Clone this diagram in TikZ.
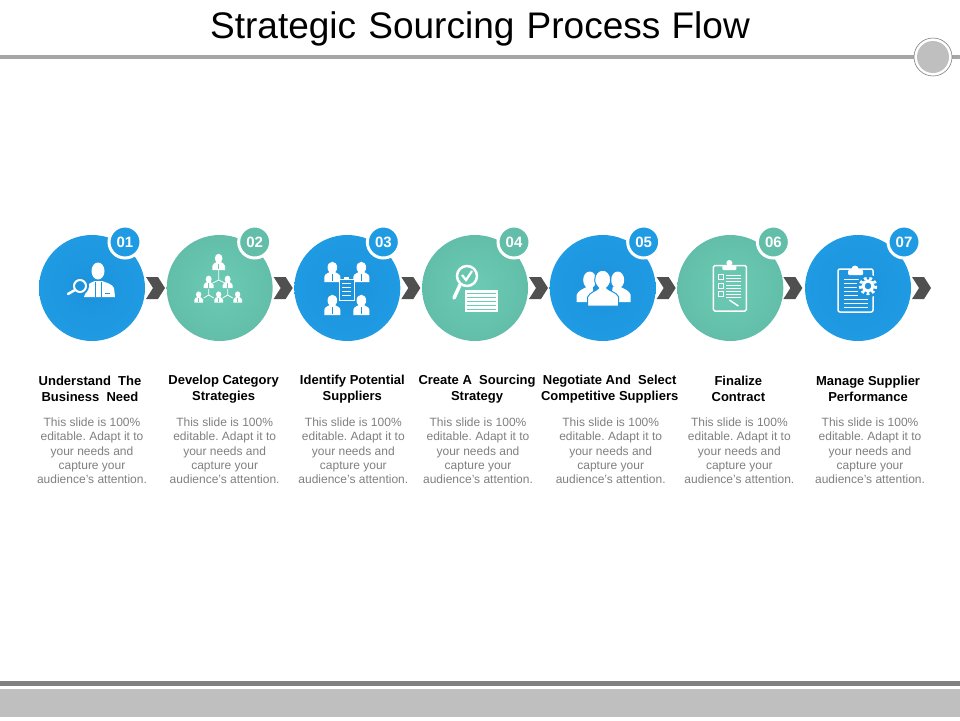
\documentclass[tikz,border=0pt]{standalone}
\usepackage{fontspec}
\setmainfont{Liberation Sans}
\frenchspacing
\usetikzlibrary{shapes,positioning}
\definecolor{bluemid}{HTML}{1C93DC}
\definecolor{blueedge}{HTML}{1F9BE3}
\definecolor{tealmid}{HTML}{6CCBB5}
\definecolor{tealedge}{HTML}{62BEA9}
\definecolor{arrowgray}{HTML}{505050}
\definecolor{bodygray}{HTML}{7F7F7F}
\definecolor{rulegray}{HTML}{A6A6A6}
\definecolor{bargray}{HTML}{BFBFBF}
\tikzset{bluedisc/.style={circle,minimum size=106pt,inner sep=0pt,inner color=bluemid,outer color=blueedge},
tealdisc/.style={circle,minimum size=106pt,inner sep=0pt,inner color=tealmid,outer color=tealedge},
bluetag/.style={circle,draw=white,line width=3pt,fill=blueedge,minimum size=32pt,inner sep=0pt,text=white,font=\fontsize{15}{15}\selectfont\bfseries},
tealtag/.style={bluetag,fill=tealedge},
chevron/.style={signal,signal from=west,signal to=east,signal pointer angle=115,fill=arrowgray,minimum width=19pt,minimum height=22pt,inner sep=0pt},
headtext/.style={align=center,font=\fontsize{13}{16}\selectfont\bfseries,text=black,inner sep=0pt},
bodytext/.style={align=center,font=\fontsize{12}{14.3}\selectfont,text=bodygray,inner sep=0pt},
person/.pic={
  \fill[white] (0,-4.5) ellipse [x radius=4.8, y radius=5.8];
  \fill[white] (-8,10) -- (-8,5) .. controls (-8,2) and (-4,1) .. (-2.5,0) -- (2.5,0) .. controls (4,1) and (8,2) .. (8,5) -- (8,10) -- cycle;
  \draw[#1,line width=.5pt] (0,2) -- (0,9);
},
sheetlines/.style={white,line width=1pt}
}
\begin{document}
\begin{tikzpicture}[x=1pt,y=-1pt,node distance=127.67pt,on grid]
  \useasboundingbox (0,0) rectangle (960,720);
  \node[font=\fontsize{37}{37}\selectfont] (title) at (480,29) {Strategic\hspace{2pt} Sourcing\hspace{2pt} Process\hspace{1pt} Flow};
  \fill[rulegray] (0,55) rectangle (960,59);
  \node[circle,draw=gray,line width=.6pt,fill=white,minimum size=38pt,inner sep=0pt] (ringouter) at (933,57) {};
  \node[circle,fill=bargray,minimum size=32pt,inner sep=0pt] (ringinner) at (933,57) {};
  \fill[gray] (0,681) rectangle (960,686);
  \fill[bargray] (0,689) rectangle (960,717);

  \node[bluedisc] (c1) at (92,288) {};
  \node[tealdisc] (c2) [right =of c1] {};
  \node[bluedisc] (c3) [right =of c2] {};
  \node[tealdisc] (c4) [right =of c3] {};
  \node[bluedisc] (c5) [right =of c4] {};
  \node[tealdisc] (c6) [right =of c5] {};
  \node[bluedisc] (c7) [right =of c6] {};

  \node[bluetag] (n1) [above right=46pt and 33pt of c1] {01};
  \node[tealtag] (n2) [above right=46pt and 35pt of c2] {02};
  \node[bluetag] (n3) [above right=46pt and 36pt of c3] {03};
  \node[tealtag] (n4) [above right=46pt and 39pt of c4] {04};
  \node[bluetag] (n5) [above right=46pt and 41pt of c5] {05};
  \node[tealtag] (n6) [above right=46pt and 43pt of c6] {06};
  \node[bluetag] (n7) [above right=46pt and 46pt of c7] {07};

  \node[chevron] (a1) [right=63.5pt of c1] {};
  \node[chevron] (a2) [right=63.5pt of c2] {};
  \node[chevron] (a3) [right=63.5pt of c3] {};
  \node[chevron] (a4) [right=63.5pt of c4] {};
  \node[chevron] (a5) [right=63.5pt of c5] {};
  \node[chevron] (a6) [right=62.5pt of c6] {};
  \node[chevron] (a7) [right=63.5pt of c7] {};

  \node[headtext] (h1) [below=101pt of c1,xshift=-2pt] {Understand\ \ The\\Business\ \ Need};
  \node[headtext] (h2) [below=101pt of c2,xshift=4pt] {Develop Category\\Strategies};
  \node[headtext] (h3) [below=101pt of c3,xshift=5pt] {Identify Potential\\Suppliers};
  \node[headtext] (h4) [below=101pt of c4,xshift=2pt] {Create A\ \ Sourcing\\Strategy};
  \node[headtext] (h5) [below=101pt of c5,xshift=7pt] {Negotiate And\ \ Select\\Competitive Suppliers};
  \node[headtext] (h6) [below=101pt of c6,xshift=8pt] {Finalize\\Contract};
  \node[headtext] (h7) [below=101pt of c7,xshift=10pt] {Manage Supplier\\Performance};

  \node[bodytext] (b1) [below=62pt of h1,xshift=2pt] {This slide is 100\%\\editable. Adapt it to\\your needs and\\capture your\\audience's attention.};
  \node[bodytext] (b2) [below=62pt of h2,xshift=1pt] {This slide is 100\%\\editable. Adapt it to\\your needs and\\capture your\\audience's attention.};
  \node[bodytext] (b3) [below=62pt of h3,xshift=1pt] {This slide is 100\%\\editable. Adapt it to\\your needs and\\capture your\\audience's attention.};
  \node[bodytext] (b4) [below=62pt of h4,xshift=1pt] {This slide is 100\%\\editable. Adapt it to\\your needs and\\capture your\\audience's attention.};
  \node[bodytext] (b5) [below=62pt of h5,xshift=1pt] {This slide is 100\%\\editable. Adapt it to\\your needs and\\capture your\\audience's attention.};
  \node[bodytext] (b6) [below=62pt of h6,xshift=1pt] {This slide is 100\%\\editable. Adapt it to\\your needs and\\capture your\\audience's attention.};
  \node[bodytext] (b7) [below=62pt of h7,xshift=2pt] {This slide is 100\%\\editable. Adapt it to\\your needs and\\capture your\\audience's attention.};

  \begin{scope}[shift={(c1)}]
    \fill[white] (6,-17) ellipse [x radius=6.5, y radius=8.5];
    \fill[white] (-8,9) -- (-3,-4) .. controls (-1,-6) and (1,-6) .. (3,-7) -- (10,-7) .. controls (12,-6) and (21,-4) .. (22,0) -- (23,9) -- cycle;
    \draw[bluemid,line width=.6pt] (3,-6) -- (3,9) (9,-6) -- (9,9) (13,5) -- (18,5);
    \fill[bluemid] (-12,-2) circle (9);
    \draw[white,line width=2pt] (-12,-2) circle (6);
    \draw[white,line width=2.5pt,line cap=round] (-17,2) -- (-24,6);
  \end{scope}

  \begin{scope}[shift={(c2)}]
    \draw[white,line width=.8pt] (-1,-18) -- (-1,-8) -- (-7,-5) (-1,-8) -- (5,-5);
    \draw[white,line width=.8pt] (-11,1) -- (-11,7) -- (-16,10) (-11,7) -- (-6,10) (8,1) -- (8,7) -- (3,10) (8,7) -- (13,10);
    \pic[scale=.8] at (-1,-26) {person=tealmid};
    \pic[scale=.62] at (-11,-6) {person=tealmid};
    \pic[scale=.62] at (8,-6) {person=tealmid};
    \pic[scale=.55] at (-21,9) {person=tealmid};
    \pic[scale=.55] at (-1,9) {person=tealmid};
    \pic[scale=.55] at (18,9) {person=tealmid};
  \end{scope}

  \begin{scope}[shift={(c3)}]
    \pic at (-15,-16) {person=bluemid};
    \pic at (14,-16) {person=bluemid};
    \pic at (-15,17) {person=bluemid};
    \pic at (14,17) {person=bluemid};
    \draw[white,line width=.8pt,fill=bluemid] (-8,-9) rectangle (7,12);
    \fill[white] (-3,-11) rectangle (2,-8);
    \draw[sheetlines,line width=.7pt] (-5,-5) -- (4,-5) (-5,-1) -- (4,-1) (-5,3) -- (4,3) (-5,7) -- (4,7);
  \end{scope}

  \begin{scope}[shift={(c4)}]
    \draw[white,line width=2.5pt] (-8,-12) circle (10);
    \draw[white,line width=3.5pt,line cap=round] (-15,-3) -- (-21,10);
    \draw[white,line width=2.2pt] (-13,-13) -- (-9,-8) -- (-3,-17);
    \fill[white] (-10,2) rectangle (23,24);
    \draw[tealmid,line width=.8pt] (-8,5) -- (21,5) (-8,9) -- (21,9) (-8,13) -- (21,13) (-8,17) -- (21,17) (-8,21) -- (21,21);
  \end{scope}

  \begin{scope}[shift={(c5)}]
    \fill[white] (-13,-8) ellipse [x radius=6.5, y radius=8.5];
    \fill[white] (15,-8) ellipse [x radius=6.5, y radius=8.5];
    \fill[white] (-26,14) -- (-26,7) .. controls (-25,3) and (-20,1) .. (-16,-1) -- (-10,-1) -- (-8,14) -- cycle;
    \fill[white] (28,14) -- (28,7) .. controls (27,3) and (22,1) .. (18,-1) -- (10,-1) -- (8,14) -- cycle;
    \draw[bluemid,line width=1pt,fill=white] (-8,-8) .. controls (-8,-21) and (8,-21) .. (8,-8) .. controls (8,-4) and (5,-1) .. (4,0) .. controls (6,3) and (14,4) .. (16,9) -- (16,18) -- (-15,18) -- (-15,9) .. controls (-13,4) and (-6,3) .. (-4,0) .. controls (-5,-1) and (-8,-4) .. (-8,-8) -- cycle;
  \end{scope}

  \begin{scope}[shift={(c6)}]
    \draw[white,line width=1.5pt,rounded corners=1.5pt] (-17,-22.5) rectangle (16,23);
    \fill[white,rounded corners=1pt] (-8,-23) rectangle (6,-18);
    \fill[white] (-1,-25) circle (3);
    \draw[white,line width=.8pt] (-11.5,-13.5) rectangle (-6.5,-8.5);
    \draw[white,line width=.8pt] (-11.5,-4.5) rectangle (-6.5,.5);
    \draw[white,line width=.8pt] (-11.5,3.5) rectangle (-6.5,8.5);
    \draw[sheetlines] (-4,-13) -- (11,-13) (-4,-10) -- (11,-10) (-4,-7) -- (11,-7) (-4,-3) -- (11,-3) (-4,0) -- (11,0) (-4,3) -- (11,3) (-4,6) -- (11,6) (-4,9) -- (11,9);
    \draw[white,line width=1.5pt] (-1,12) -- (8,18);
  \end{scope}

  \begin{scope}[shift={(c7)}]
    \draw[white,line width=1.5pt,rounded corners=2pt] (-20,-19) rectangle (15,24);
    \fill[white,rounded corners=1pt] (-10,-18) rectangle (5,-13);
    \fill[white] (-3,-19) circle (3.5);
    \draw[sheetlines] (-14,-9) -- (6,-9) (-14,-5) -- (2,-5) (-14,-1) -- (0,-1) (-14,3) -- (0,3) (-14,7) -- (0,7) (-14,11) -- (10,11) (-14,15) -- (10,15) (-14,19) -- (10,19);
    \fill[bluemid] (10,-2) circle (11.5);
    \draw[white,line width=2.8pt,dash pattern=on 2.8pt off 2.6pt] (10,-2) circle (7.8);
    \draw[white,line width=3pt] (10,-2) circle (5);
  \end{scope}
\end{tikzpicture}
\end{document}
